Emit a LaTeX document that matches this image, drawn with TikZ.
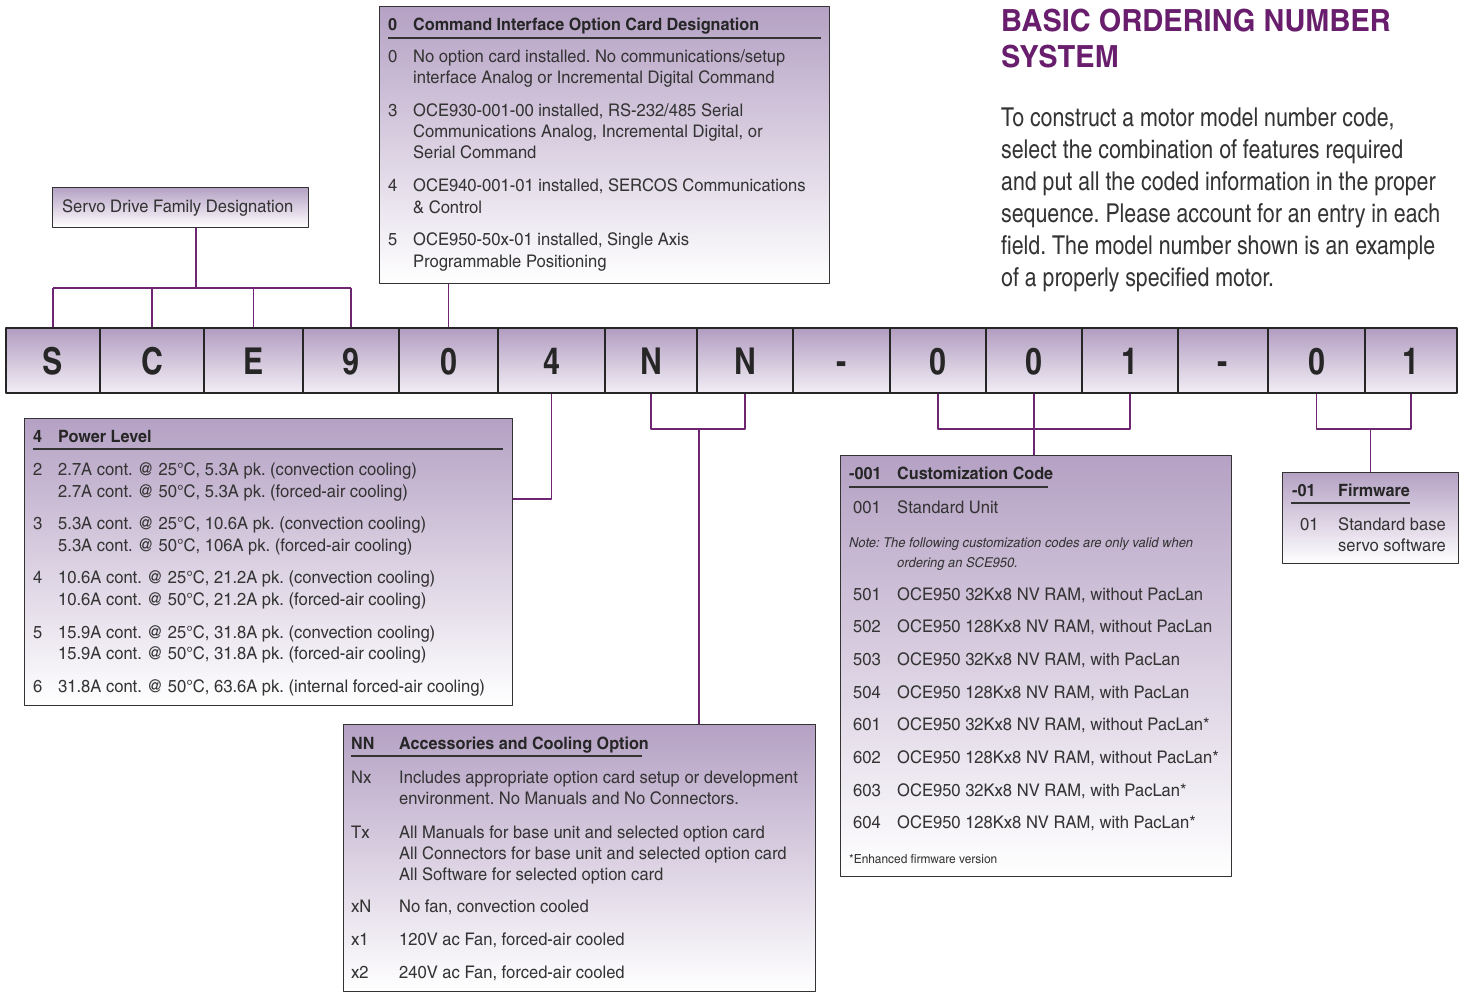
\documentclass[tikz,border=0pt]{standalone}
\usepackage{fontspec}
\setmainfont{texgyreheroscn}[Extension=.otf, UprightFont=*-regular, BoldFont=*-bold, ItalicFont=*-italic, BoldItalicFont=*-bolditalic, FakeStretch=1.16]
\newfontfamily\parafont{texgyreheroscn}[Extension=.otf, UprightFont=*-regular, BoldFont=*-bold, ItalicFont=*-italic, BoldItalicFont=*-bolditalic]
\usetikzlibrary{positioning}
\frenchspacing

\definecolor{cellTop}{RGB}{178,157,193}
\definecolor{cellBot}{RGB}{242,238,245}
\definecolor{boxTop}{RGB}{181,161,196}
\definecolor{linkPurple}{RGB}{110,38,114}
\definecolor{titlePurple}{RGB}{104,30,108}
\definecolor{inkGray}{RGB}{52,52,52}

\tikzset{
  codecell/.style={draw=black!85, line width=2pt, top color=cellTop, bottom color=cellBot,
    minimum height=65pt, inner sep=0pt, text height=27pt, text depth=0pt,
    font=\parafont\bfseries\fontsize{37}{37}\selectfont, text=black!85},
  infobox/.style={draw=black!80, line width=1.2pt, top color=boxTop, bottom color=white,
    inner sep=0pt, anchor=north west},
  link/.style={draw=linkPurple, line width=1.5pt},
  hrule/.style={draw=black!80, line width=1.2pt},
  hd/.style={anchor=base west, inner sep=0pt, font=\bfseries\fontsize{17}{17}\selectfont, text=black!85},
  tx/.style={anchor=base west, inner sep=0pt, font=\fontsize{17.4}{17}\selectfont, text=inkGray},
  notetx/.style={anchor=base west, inner sep=0pt, font=\itshape\fontsize{13.6}{14}\selectfont, text=inkGray},
}

\begin{document}
\begin{tikzpicture}[x=1pt, y=-1pt, line join=round]
  \useasboundingbox (0,0) rectangle (1466,992);

  % the code bar
  \foreach \l/\r/\ch [count=\i] in {6/100/S,100/204/C,204/303/E,303/399/9,399/498/0,498/605/4,
      605/697/N,697/793/N,793/890/-,890/986/0,986/1082/0,1082/1178/1,1178/1268/-,1268/1365/0,1365/1457/1}
    \node[codecell, minimum width={(\r-\l)*1pt}] (c\i) at ({(\l+\r)/2},360.5) {\ch};

  % title and text
  \node[anchor=base west, inner sep=0pt, font=\bfseries\fontsize{30.5}{31}\selectfont, text=titlePurple] (title1) at (1001,32) {BASIC ORDERING NUMBER};
  \node[anchor=base west, inner sep=0pt, font=\bfseries\fontsize{30.5}{31}\selectfont, text=titlePurple] (title2) at (1001,68) {SYSTEM};
  \foreach \txt [count=\i] in {{To construct a motor model number code,},
      {select the combination of features required},
      {and put all the coded information in the proper},
      {sequence. Please account for an entry in each},
      {field. The model number shown is an example},
      {of a properly specified motor.}}
    \node[tx, font=\parafont\fontsize{26}{26}\selectfont] (intro\i) at (1001,{127+31.8*(\i-1)}) {\txt};

  % servo drive family
  \node[infobox, minimum width=256pt, minimum height=40pt] (fambox) at (52,187) {};
  \node[tx] (famtxt) at (62,213) {Servo Drive Family Designation};
  \coordinate (famj) at (196,288);
  \draw[link] (famj |- fambox.south) -- (famj);
  \draw[link] (c1.north |- famj) -- (c4.north |- famj);
  \foreach \i in {1,...,4}
    \draw[link] (c\i.north |- famj) -- (c\i.north);

  % command interface option card
  \node[infobox, minimum width=450pt, minimum height=277pt] (cmdbox) at (379,6) {};
  \node[hd] (cmdhc) at (388,31) {0};
  \node[hd] (cmdht) at (413,31) {Command Interface Option Card Designation};
  \draw[hrule] (388,38) -- (821,38);
  \foreach \yy/\cd/\txt [count=\i] in {63/0/{No option card installed. No communications/setup},
      84//{interface Analog or Incremental Digital Command},
      117/3/{OCE930-001-00 installed, RS-232/485 Serial},
      138//{Communications Analog, Incremental Digital, or},
      159//{Serial Command},
      192/4/{OCE940-001-01 installed, SERCOS Communications},
      214//{\& Control},
      246/5/{OCE950-50x-01 installed, Single Axis},
      268//{Programmable Positioning}}
    {\node[tx] (cmdc\i) at (388,\yy) {\cd};
     \node[tx] (cmdt\i) at (413,\yy) {\txt};}
  \draw[link] (c5.north |- cmdbox.south) -- (c5.north);

  % power level
  \node[infobox, minimum width=488pt, minimum height=287pt] (pwrbox) at (24,418) {};
  \node[hd] (pwrhc) at (33,442) {4};
  \node[hd] (pwrht) at (58,442) {Power Level};
  \draw[hrule] (33,449) -- (503,449);
  \foreach \yy/\cd/\txt [count=\i] in {475/2/{2.7A cont. @ 25°C, 5.3A pk. (convection cooling)},
      497//{2.7A cont. @ 50°C, 5.3A pk. (forced-air cooling)},
      529/3/{5.3A cont. @ 25°C, 10.6A pk. (convection cooling)},
      551//{5.3A cont. @ 50°C, 106A pk. (forced-air cooling)},
      583/4/{10.6A cont. @ 25°C, 21.2A pk. (convection cooling)},
      605//{10.6A cont. @ 50°C, 21.2A pk. (forced-air cooling)},
      638/5/{15.9A cont. @ 25°C, 31.8A pk. (convection cooling)},
      659//{15.9A cont. @ 50°C, 31.8A pk. (forced-air cooling)},
      692/6/{31.8A cont. @ 50°C, 63.6A pk. (internal forced-air cooling)}}
    {\node[tx] (pwrc\i) at (33,\yy) {\cd};
     \node[tx] (pwrt\i) at (58,\yy) {\txt};}
  \draw[link] (c6.south) |- (pwrbox.east |- 0,499);

  % accessories and cooling
  \node[infobox, minimum width=472pt, minimum height=267pt] (nnbox) at (343,724) {};
  \node[hd] (nnhc) at (351,749) {NN};
  \node[hd] (nnht) at (399,749) {Accessories and Cooling Option};
  \draw[hrule] (351,756) -- (642,756);
  \foreach \yy/\cd/\txt [count=\i] in {783/Nx/{Includes appropriate option card setup or development},
      804//{environment. No Manuals and No Connectors.},
      838/Tx/{All Manuals for base unit and selected option card},
      859//{All Connectors for base unit and selected option card},
      880//{All Software for selected option card},
      912/xN/{No fan, convection cooled},
      945/x1/{120V ac Fan, forced-air cooled},
      978/x2/{240V ac Fan, forced-air cooled}}
    {\node[tx] (nnc\i) at (351,\yy) {\cd};
     \node[tx] (nnt\i) at (399,\yy) {\txt};}
  \coordinate (nnj) at (699,429);
  \draw[link] (c7.south) -- (c7.south |- nnj) -- (c8.south |- nnj) -- (c8.south);
  \draw[link] (nnj) -- (nnj |- nnbox.north);

  % customization code
  \node[infobox, minimum width=391pt, minimum height=421pt] (cusbox) at (840,455) {};
  \node[hd] (cushc) at (849,479) {-001};
  \node[hd] (cusht) at (897,479) {Customization Code};
  \draw[hrule] (849,487) -- (1048,487);
  \node[tx] (cusc0) at (853,513) {001};
  \node[tx] (cust0) at (897,513) {Standard Unit};
  \node[notetx] (note1) at (849,547) {Note: The following customization codes are only valid when};
  \node[notetx] (note2) at (897,567) {ordering an SCE950.};
  \foreach \cd/\txt [count=\i] in {501/{OCE950 32Kx8 NV RAM, without PacLan},
      502/{OCE950 128Kx8 NV RAM, without PacLan},
      503/{OCE950 32Kx8 NV RAM, with PacLan},
      504/{OCE950 128Kx8 NV RAM, with PacLan},
      601/{OCE950 32Kx8 NV RAM, without PacLan*},
      602/{OCE950 128Kx8 NV RAM, without PacLan*},
      603/{OCE950 32Kx8 NV RAM, with PacLan*},
      604/{OCE950 128Kx8 NV RAM, with PacLan*}}
    {\node[tx] (cusc\i) at (853,{600+32.7*(\i-1)}) {\cd};
     \node[tx] (cust\i) at (897,{600+32.7*(\i-1)}) {\txt};}
  \node[tx, font=\fontsize{12.5}{12}\selectfont] (cusfoot) at (849,863) {*Enhanced firmware version};
  \draw[link] (c10.south) -- (c10.south |- 0,429) -- (c12.south |- 0,429) -- (c12.south);
  \draw[link] (c11.south) -- (c11.south |- cusbox.north);

  % firmware
  \node[infobox, minimum width=176pt, minimum height=91pt] (firbox) at (1282,472) {};
  \node[hd] (firhc) at (1292,496) {-01};
  \node[hd] (firht) at (1338,496) {Firmware};
  \draw[hrule] (1291,503) -- (1410,503);
  \node[tx] (firc1) at (1300,530) {01};
  \node[tx] (firt1) at (1338,530) {Standard base};
  \node[tx] (firt2) at (1338,551) {servo software};
  \draw[link] (c14.south) -- (c14.south |- 0,429) -- (c15.south |- 0,429) -- (c15.south);
  \draw[link] (firbox.north |- 0,429) -- (firbox.north);
\end{tikzpicture}
\end{document}
